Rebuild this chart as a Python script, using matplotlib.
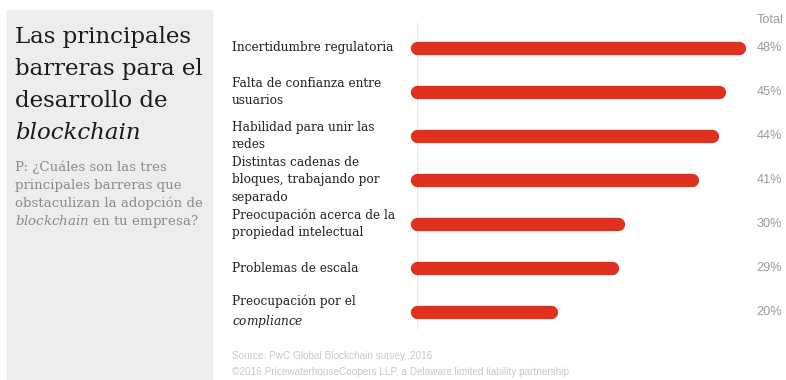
import matplotlib
matplotlib.use('Agg')
import matplotlib.pyplot as plt
from matplotlib.patches import Rectangle

W, H = 786, 380
DPI = 100

labels = ['Incertidumbre regulatoria',
          'Falta de confianza entre\nusuarios',
          'Habilidad para unir las\nredes',
          'Distintas cadenas de\nbloques, trabajando por\nseparado',
          'Preocupación acerca de la\npropiedad intelectual',
          'Problemas de escala',
          'Preocupación por el\n$\\it{compliance}$']
totals = [48, 45, 44, 41, 30, 29, 20]
value_text = ['48%', '45%', '44%', '41%', '30%', '29%', '20%']

title_lines = ['Las principales', 'barreras para el', 'desarrollo de']
title_italic = 'blockchain'
question_lines = ['P: ¿Cuáles son las tres', 'principales barreras que',
                  'obstaculizan la adopción de']
source_text = 'Source: PwC Global Blockchain survey, 2016'
copyright_text = ('©2016 PricewaterhouseCoopers LLP, a Delaware limited '
                  'liability partnership.')

red = '#e0301e'
serif = ['DejaVu Serif']
sans = ['Liberation Sans', 'DejaVu Sans']
plt.rcParams['mathtext.fontset'] = 'dejavuserif'


def fx(x):
    return x / W


def fy(y):
    return 1 - y / H


fig = plt.figure(figsize=(W / DPI, H / DPI), dpi=DPI)
fig.patch.set_facecolor('white')

# grey side panel with title and question
fig.patches.append(Rectangle((fx(7), 0), fx(212) - fx(7), fy(10),
                             transform=fig.transFigure, color='#ededed',
                             zorder=0))
for k, line in enumerate(title_lines):
    fig.text(fx(15), fy(43 + 32 * k), line, family=serif, fontsize=16.5,
             color='#1a1a1a', va='baseline')
fig.text(fx(15), fy(139), title_italic, family=serif, style='italic',
         fontsize=16.5, color='#1a1a1a', va='baseline')
for k, line in enumerate(question_lines):
    fig.text(fx(15), fy(171 + 18 * k), line, family=serif, fontsize=9.6,
             color='#8c8c8c', va='baseline')
fig.text(fx(15), fy(225), '$\\it{blockchain}$ en tu empresa?', family=serif,
         fontsize=9.6, color='#8c8c8c', va='baseline')

# bars: zero sits at x=417px, 6.71 px per percent
ax = fig.add_axes([fx(417), fy(378), fx(W) - fx(417), (378 - 4) / H])
ax.set_xlim(0, (W - 417) / 6.71)
ax.set_ylim(7.5, -1)
ax.axis('off')

ax.plot([0, 0], [-0.57, 6.36], color='#e8e8e8', lw=1, zorder=1)
for i, (lab, v, txt) in enumerate(zip(labels, totals, value_text)):
    ax.plot([0, v], [i, i], color=red, lw=9.6, solid_capstyle='round',
            zorder=2, clip_on=False)
    ax.text(-27.6, i, lab, family=serif, fontsize=8.7, color='#222222',
            va='center', ha='left', linespacing=1.4)
    ax.text(50.6, i, txt, family=sans, fontsize=9.2, color='#9a9a9a',
            va='center', ha='left')
ax.text(50.6, -0.64, 'Total', family=sans, fontsize=9.2, color='#9a9a9a',
        va='center', ha='left')

fig.text(fx(232), fy(356), source_text, family=sans, fontsize=7.2,
         color='#c8c8c8', va='center')
fig.text(fx(232), fy(372), copyright_text, family=sans, fontsize=7.2,
         color='#c8c8c8', va='center')

fig.savefig('out.png', dpi=DPI)
